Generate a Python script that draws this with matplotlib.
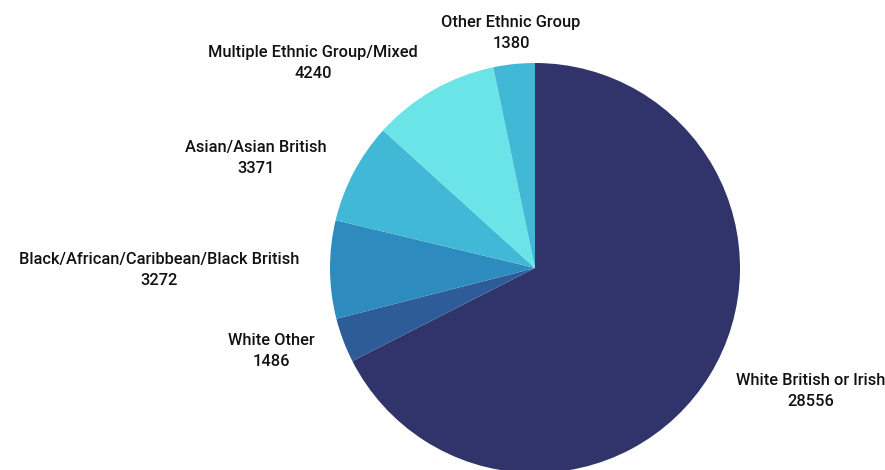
import matplotlib
matplotlib.use("Agg")
import matplotlib.pyplot as plt
import numpy as np

plt.rcParams['font.family'] = ['Roboto', 'DejaVu Sans']

groups = ["White British or Irish", "White Other",
          "Black/African/Caribbean/Black British", "Asian/Asian British",
          "Multiple Ethnic Group/Mixed", "Other Ethnic Group"]
counts = [28556, 1486, 3272, 3371, 4240, 1380]
colours = ["#31346B", "#2E5C99", "#2E8BBE", "#42B8D7", "#6BE4E8", "#42B8D7"]

fig = plt.figure(figsize=(8.85, 4.7), dpi=100)
ax = fig.add_axes([0, 0, 1, 1])

cx, cy, r = 535, 202, 205
wedges, _ = ax.pie(counts, colors=colours, startangle=90, counterclock=False,
                   center=(cx, cy), radius=r, frame=True,
                   wedgeprops=dict(linewidth=0))
ax.set_xlim(0, 885)
ax.set_ylim(0, 470)
ax.set_aspect('equal')
ax.axis('off')

# labels sit just outside each wedge, centred on its mid angle
for w, name, n in zip(wedges, groups, counts):
    th = np.deg2rad((w.theta1 + w.theta2) / 2)
    c, s = np.cos(th), np.sin(th)
    x = cx + 1.15 * r * c
    y = cy + 1.15 * r * s
    ha = 'left' if c > 0.15 else ('right' if c < -0.15 else 'center')
    ax.text(x, y, f"{name}\n{n}", ha=ha, va='center', ma='center',
            fontsize=11.8, fontweight='medium', color='#111111',
            linespacing=1.5)

fig.savefig("out.png", dpi=100)
